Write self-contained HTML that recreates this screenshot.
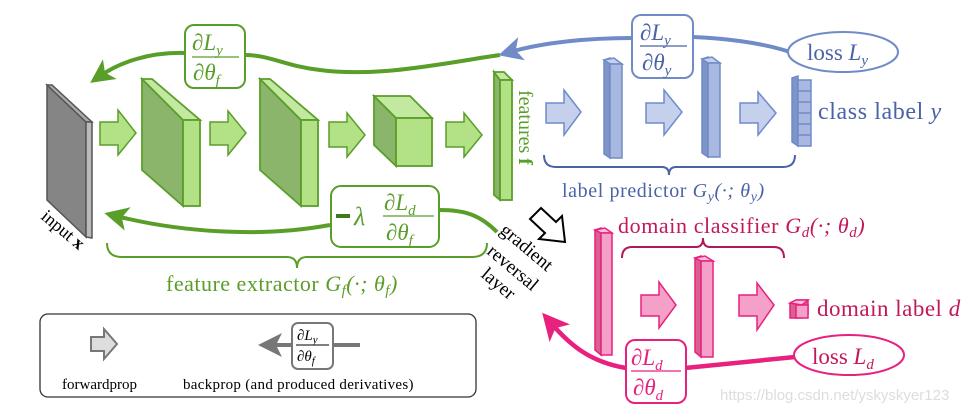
<!DOCTYPE html>
<html><head><meta charset="utf-8"><style>
body{margin:0;background:#fff}
svg{display:block}
text{font-family:"Liberation Serif",serif}
.it{font-style:italic}
</style></head><body>
<svg width="971" height="412" viewBox="0 0 971 412" xmlns="http://www.w3.org/2000/svg">
<defs>
<marker id="ag" markerWidth="6" markerHeight="6" refX="3" refY="3" orient="auto" markerUnits="strokeWidth"><path d="M0,0 L6,3 L0,6 L1.5,3z" fill="#5a9e2a"/></marker>
<marker id="ab" markerWidth="6" markerHeight="6" refX="3" refY="3" orient="auto" markerUnits="strokeWidth"><path d="M0,0 L6,3 L0,6 L1.5,3z" fill="#6f8bc8"/></marker>
<marker id="ap" markerWidth="6" markerHeight="6" refX="3" refY="3" orient="auto" markerUnits="strokeWidth"><path d="M0,0 L6,3 L0,6 L1.5,3z" fill="#e8217f"/></marker>
<marker id="ay" markerWidth="6" markerHeight="6" refX="3" refY="3" orient="auto" markerUnits="strokeWidth"><path d="M0,0 L6,3 L0,6 L1.5,3z" fill="#777"/></marker>
</defs>

<!-- input slab -->
<polygon points="47,85 86,122 86,237 47,200" fill="#858585" stroke="#555" stroke-width="1.5"/>
<polygon points="47,85 52,85 92,122 86,122" fill="#aaa" stroke="#555" stroke-width="1.5"/>
<polygon points="86,122 92,122 92,238 86,237" fill="#bbb" stroke="#555" stroke-width="1.5"/>
<text x="40" y="218" font-size="18" transform="rotate(40 40 218)">input <tspan font-weight="bold">x</tspan></text>

<!-- green arrows -->
<g fill="#b3e186" stroke="#5a9e2a" stroke-width="1.5">
<path d="M100,122 H118 V110 L136,133 L118,155 V145 H100Z"/>
<path d="M210,122 H228 V111 L246,133 L228,155 V145 H210Z"/>
<path d="M329,122 H347 V113 L365,135 L347,157 V147 H329Z"/>
<path d="M446,122 H464 V113 L482,135 L464,157 V147 H446Z"/>
</g>
<!-- green slabs -->
<g stroke="#5a9e2a" stroke-width="1.8">
<polygon points="142,79 183,120 183,206 142,170" fill="#8ab56a"/>
<polygon points="142,79 152,79 200,120 183,120" fill="#c3e9a0"/>
<rect x="183" y="120" width="17" height="86" fill="#b3e186"/>
<polygon points="260,79 301,120 301,206 260,170" fill="#8ab56a"/>
<polygon points="260,79 270,79 318,120 301,120" fill="#c3e9a0"/>
<rect x="301" y="120" width="17" height="86" fill="#b3e186"/>
<polygon points="374,96 396,118 396,166 374,145" fill="#8ab56a"/>
<polygon points="374,96 410,96 432,118 396,118" fill="#c3e9a0"/>
<rect x="396" y="118" width="36" height="48" fill="#b3e186"/>
<polygon points="494,72 494,195 500,200 500,80" fill="#8ab56a"/>
<polygon points="494,72 504,72 512,80 500,80" fill="#c3e9a0"/>
<rect x="500" y="80" width="12" height="120" fill="#b3e186"/>
</g>
<text x="519" y="90" font-size="20" fill="#5a9e2a" transform="rotate(90 519 90)">features <tspan font-weight="bold">f</tspan></text>

<!-- green top back arrow -->
<path d="M500,55 C450,62 380,78 320,70 C285,66 270,55 245,55" fill="none" stroke="#5a9e2a" stroke-width="4"/>
<path d="M185,53 C150,52 120,62 100,76" fill="none" stroke="#5a9e2a" stroke-width="4" marker-end="url(#ag)"/>
<rect x="185" y="25" width="60" height="63" rx="9" fill="#fff" stroke="#5a9e2a" stroke-width="2"/>
<g fill="#5a9e2a" font-size="23" class="it">
<text x="192" y="50">∂L<tspan font-size="15" dy="5">y</tspan></text>
<line x1="192" y1="57" x2="239" y2="57" stroke="#5a9e2a" stroke-width="1.3"/>
<text x="193" y="80">∂θ<tspan font-size="15" dy="5">f</tspan></text>
</g>
<path d="M480,58 L497,55" stroke="#5a9e2a" stroke-width="3" stroke-dasharray="8,6"/>

<!-- green bottom back arrow -->
<path d="M497,232 C480,215 465,210 440,210" fill="none" stroke="#5a9e2a" stroke-width="4"/>
<path d="M330,225 C260,238 180,232 116,216" fill="none" stroke="#5a9e2a" stroke-width="4" marker-end="url(#ag)"/>
<rect x="331" y="186" width="108" height="61" rx="10" fill="#fff" stroke="#5a9e2a" stroke-width="2"/>
<g fill="#5a9e2a" class="it">
<rect x="336" y="214" width="14" height="4" fill="#3d7a1a"/>
<text x="354" y="225" font-size="26">λ</text>
<text x="384" y="210" font-size="23">∂L<tspan font-size="15" dy="5">d</tspan></text>
<line x1="383" y1="216" x2="434" y2="216" stroke="#5a9e2a" stroke-width="1.3"/>
<text x="386" y="240" font-size="23">∂θ<tspan font-size="15" dy="5">f</tspan></text>
</g>
<!-- green brace -->
<path d="M107,243 Q107,257 122,257 H287 Q297,257 297,268 Q297,257 307,257 H472 Q487,257 487,243" fill="none" stroke="#5a9e2a" stroke-width="2"/>
<text x="166" y="291" font-size="22" fill="#5a9e2a" letter-spacing="0.5">feature extractor <tspan class="it">G<tspan font-size="15" dy="4">f</tspan><tspan dy="-4">(·; θ</tspan><tspan font-size="15" dy="4">f</tspan><tspan dy="-4">)</tspan></tspan></text>

<!-- gradient reversal -->
<text x="499" y="232" font-size="19" transform="rotate(40 499 232)">gradient</text>
<text x="486" y="253" font-size="19" transform="rotate(40 486 253)">reversal</text>
<text x="480" y="276" font-size="19" transform="rotate(40 480 276)">layer</text>
<path d="M541,208 L556,222 L562,216 L565,242 L539,239 L545,233 L530,219Z" fill="#fff" stroke="#000" stroke-width="2"/>

<!-- blue top back arrow -->
<path d="M790,52 C760,42 720,38 693,37" fill="none" stroke="#6f8bc8" stroke-width="4"/>
<path d="M632,38 C590,38 545,42 510,52" fill="none" stroke="#6f8bc8" stroke-width="4" marker-end="url(#ab)"/>
<rect x="632" y="15" width="61" height="63" rx="9" fill="#fff" stroke="#6f8bc8" stroke-width="2"/>
<g fill="#4a63a8" font-size="23" class="it">
<text x="640" y="40">∂L<tspan font-size="15" dy="5">y</tspan></text>
<line x1="640" y1="46" x2="687" y2="46" stroke="#4a63a8" stroke-width="1.3"/>
<text x="642" y="70">∂θ<tspan font-size="15" dy="5">y</tspan></text>
</g>
<ellipse cx="843" cy="52" rx="55" ry="20" fill="#fff" stroke="#6f8bc8" stroke-width="2"/>
<text x="807" y="60" font-size="23" fill="#4a63a8">loss <tspan class="it">L<tspan font-size="15" dy="5">y</tspan></tspan></text>

<!-- blue arrows/bars -->
<g fill="#c5d0ec" stroke="#6f8bc8" stroke-width="1.5">
<path d="M546,103 H564 V90 L581,112 L564,135 V123 H546Z"/>
<path d="M646,103 H664 V90 L682,112 L664,135 V123 H646Z"/>
<path d="M740,103 H758 V92 L776,113 L758,135 V123 H740Z"/>
</g>
<g stroke="#6f8bc8" stroke-width="1.5">
<polygon points="604,60 610,58 610,158 604,154" fill="#7f95c8"/>
<polygon points="604,60 614,58 622,64 610,64" fill="#c5d0ec"/>
<rect x="610" y="64" width="12" height="94" fill="#a9b8e0"/>
<polygon points="702,59 708,57 708,157 702,153" fill="#7f95c8"/>
<polygon points="702,59 712,57 720,63 708,63" fill="#c5d0ec"/>
<rect x="708" y="63" width="12" height="94" fill="#a9b8e0"/>
<polygon points="792,78 798,76 798,146 792,142" fill="#7f95c8"/>
<rect x="798" y="80" width="13" height="66" fill="#a9b8e0"/>
<path d="M798,91 H811 M798,102 H811 M798,113 H811 M798,124 H811 M798,135 H811" />
</g>
<text x="818" y="119" font-size="24" fill="#4a63a8" letter-spacing="0.6">class label <tspan class="it">y</tspan></text>
<path d="M544,155 Q544,167 556,167 H662 Q669,167 669,175 Q669,167 676,167 H783 Q795,167 795,155" fill="none" stroke="#4a63a8" stroke-width="2"/>
<text x="562" y="197" font-size="20" fill="#4a63a8" letter-spacing="0.6">label predictor <tspan class="it">G<tspan font-size="14" dy="4">y</tspan><tspan dy="-4">(·; θ</tspan><tspan font-size="14" dy="4">y</tspan><tspan dy="-4">)</tspan></tspan></text>

<!-- pink -->
<text x="618" y="233" font-size="22" fill="#c2185b" letter-spacing="0.6">domain classifier <tspan class="it">G<tspan font-size="15" dy="4">d</tspan><tspan dy="-4">(·; θ</tspan><tspan font-size="15" dy="4">d</tspan><tspan dy="-4">)</tspan></tspan></text>
<path d="M622,258 Q622,247 632,247 H696 Q703,247 703,238 Q703,247 710,247 H774 Q784,247 784,258" fill="none" stroke="#b0195e" stroke-width="2"/>
<g stroke="#e8217f" stroke-width="1.5">
<polygon points="595,230 601,228 601,355 595,350" fill="#d9608f"/>
<polygon points="595,230 605,228 612,233 601,233" fill="#f8c0da"/>
<rect x="601" y="233" width="11" height="122" fill="#f5a0c8"/>
<polygon points="695,258 701,256 701,357 695,352" fill="#d9608f"/>
<polygon points="695,258 705,256 713,261 701,261" fill="#f8c0da"/>
<rect x="701" y="261" width="12" height="96" fill="#f5a0c8"/>
<path d="M641,295 H659 V282 L676,305 L659,328 V316 H641Z" fill="#f5a0c8"/>
<path d="M739,295 H757 V283 L774,305 L757,330 V316 H739Z" fill="#f5a0c8"/>
<polygon points="790,303 796,300 808,300 808,314 802,318 790,318" fill="#d9608f"/>
<polygon points="790,303 796,300 808,300 802,305 " fill="#f8c0da"/>
<rect x="796" y="305" width="12" height="13" fill="#f5a0c8"/>
</g>
<text x="817" y="316" font-size="23" fill="#c2185b" letter-spacing="0.5">domain label <tspan class="it">d</tspan></text>
<path d="M795,357 L685,368" fill="none" stroke="#e8217f" stroke-width="4.5"/>
<path d="M626,368 C590,362 570,345 551,323" fill="none" stroke="#e8217f" stroke-width="4.5" marker-end="url(#ap)"/>
<rect x="626" y="340" width="60" height="63" rx="9" fill="#fff" stroke="#e8217f" stroke-width="2"/>
<g fill="#e8217f" font-size="23" class="it">
<text x="631" y="365">∂L<tspan font-size="15" dy="5">d</tspan></text>
<line x1="631" y1="371" x2="681" y2="371" stroke="#e8217f" stroke-width="1.3"/>
<text x="633" y="395">∂θ<tspan font-size="15" dy="5">d</tspan></text>
</g>
<ellipse cx="849" cy="355" rx="55" ry="20" fill="#fff" stroke="#e8217f" stroke-width="2"/>
<text x="812" y="364" font-size="23" fill="#c2185b">loss <tspan class="it">L<tspan font-size="15" dy="5">d</tspan></tspan></text>

<!-- legend -->
<rect x="40" y="314" width="436" height="83" rx="8" fill="#fff" stroke="#333" stroke-width="1.3"/>
<path d="M91,337 H104 V329 L117,344 L104,359 V351 H91Z" fill="#ddd" stroke="#777" stroke-width="2"/>
<text x="62" y="389" font-size="15">forwardprop</text>
<path d="M292,345 L270,345" stroke="#777" stroke-width="4" marker-end="url(#ay)"/>
<path d="M333,345 L360,345" stroke="#777" stroke-width="4"/>
<rect x="292" y="323" width="41" height="46" rx="6" fill="#fff" stroke="#777" stroke-width="2"/>
<g font-size="15" class="it">
<text x="297" y="340">∂L<tspan font-size="11" dy="3">y</tspan></text>
<line x1="296" y1="345" x2="329" y2="345" stroke="#000" stroke-width="1"/>
<text x="297" y="361">∂θ<tspan font-size="11" dy="3">f</tspan></text>
</g>
<text x="183" y="389" font-size="15" letter-spacing="0.3">backprop (and produced derivatives)</text>

<text x="720" y="400" font-size="15" fill="#ddd" style="font-family:'Liberation Sans',sans-serif">https://blog.csdn.net/yskyskyer123</text>
</svg>
</body></html>
